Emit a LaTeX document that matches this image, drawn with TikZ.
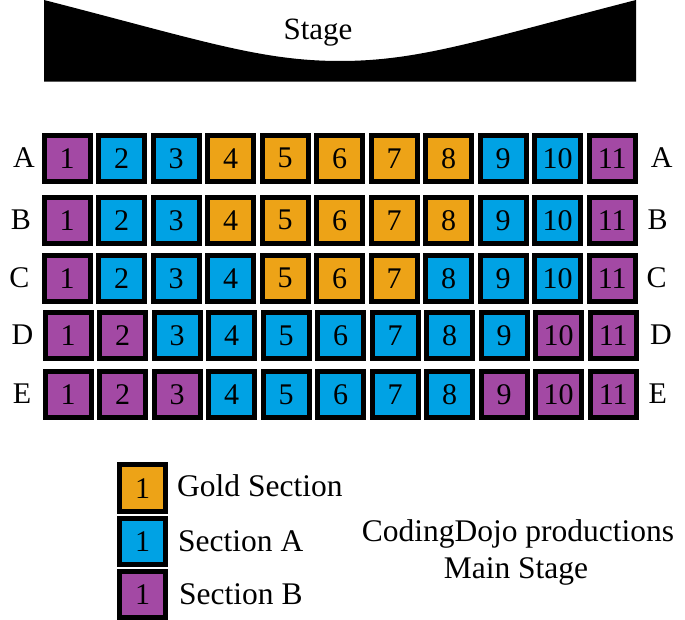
\documentclass[tikz,border=0pt]{standalone}
\usepackage{fontspec}
\setmainfont{Liberation Serif}
\definecolor{colG}{RGB}{237,163,23}
\definecolor{colB}{RGB}{0,162,228}
\definecolor{colP}{RGB}{163,73,164}
\newcommand\seatfont{\fontsize{30}{32}\selectfont}
\newcommand\rowfont{\fontsize{30}{32}\selectfont}
\newcommand\bigfont{\fontsize{31.5}{36.6}\selectfont}
\tikzset{
  seat/.style={draw=black, line width=5pt, minimum size=46pt, inner sep=0pt, font=\seatfont},
  rowlabel/.style={inner sep=0pt, font=\rowfont},
  legendtext/.style={inner sep=0pt, anchor=base west, font=\bigfont},
}
\begin{document}
\begin{tikzpicture}[x=1pt, y=-1pt]
\useasboundingbox (0,0) rectangle (685,620);
% stage
\fill[black] (44,0) .. controls (200,40) and (260,61) .. (340,61)
  .. controls (420,61) and (480,40) .. (636,0) -- (636,81.7) -- (44,81.7) -- cycle;
\node[inner sep=0pt, anchor=base, font=\fontsize{31}{33}\selectfont] (stage) at (318,40) {Stage};
% seats
\foreach \r/\y/\dx/\lx/\rx/\cols in {
  A/158.3/0/24/661.7/{P,B,B,G,G,G,G,G,B,B,P},
  B/220.3/0/21/657.7/{P,B,B,G,G,G,G,G,B,B,P},
  C/278.3/0/19.5/656.7/{P,B,B,B,G,G,G,B,B,B,P},
  D/335.5/1/22.5/661/{P,P,B,B,B,B,B,B,B,P,P},
  E/394.5/1/22/657.7/{P,P,P,B,B,B,B,B,P,P,P}}{
  \node[rowlabel] (lab-\r-L) at (\lx,\y-1) {\r};
  \node[rowlabel] (lab-\r-R) at (\rx,\y-1) {\r};
  \foreach \c [count=\i] in \cols {
    \node[seat, fill=col\c] (seat-\r-\i) at ({67.2+54.5*(\i-1)+\dx},\y) {\i};
  }
}
% legend
\node[seat, fill=colG, minimum width=46.6pt, minimum height=47pt] (legG) at (142.5,488.3) {1};
\node[seat, fill=colB, minimum width=46.6pt, minimum height=46pt] (legB) at (142.5,541.3) {1};
\node[seat, fill=colP, minimum width=46.6pt, minimum height=46pt] (legP) at (142.5,594.7) {1};
\node[legendtext] (txtG) at (177,496.7) {Gold Section};
\node[legendtext] (txtB) at (178,551.7) {Section A};
\node[legendtext] (txtP) at (179,604.3) {Section B};
% credits
\node[inner sep=0pt, anchor=base, font=\bigfont] (credit1) at (518,541.7) {CodingDojo productions};
\node[inner sep=0pt, anchor=base, font=\bigfont] (credit2) at (516,578.3) {Main Stage};
\end{tikzpicture}
\end{document}
